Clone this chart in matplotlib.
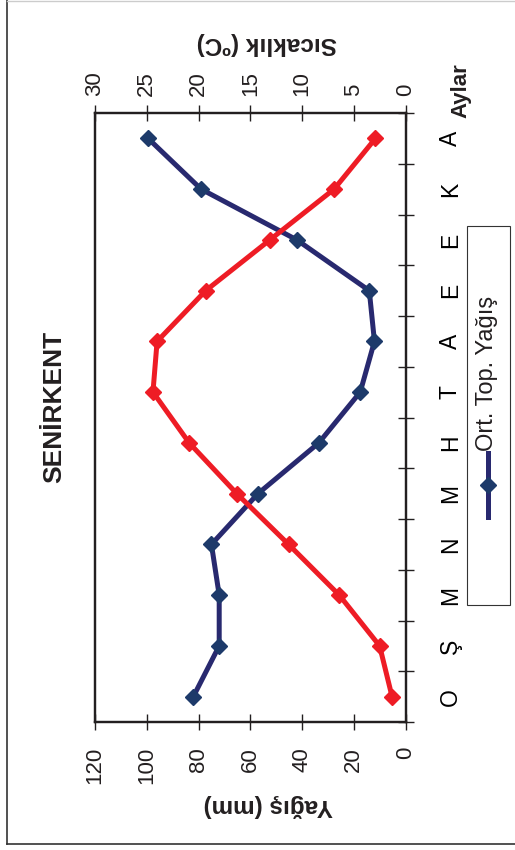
import matplotlib
matplotlib.use("Agg")
import matplotlib.pyplot as plt
from matplotlib.lines import Line2D
from matplotlib.patches import Rectangle

plt.rcParams['font.family'] = ['Liberation Sans', 'DejaVu Sans']

# Monthly climate data for Senirkent (January .. December)
months = ["O", "Ş", "M", "N", "M", "H", "T", "A", "E", "E", "K", "A"]
precip_mm = [82, 72, 72, 75, 57, 33.5, 17.5, 12, 14, 42, 79, 99.5]
temp_c = [1.3, 2.5, 6.4, 11.3, 16.3, 20.9, 24.4, 24.0, 19.3, 13.1, 6.9, 2.9]
precip_ticks = [0, 20, 40, 60, 80, 100, 120]
temp_ticks = [0, 5, 10, 15, 20, 25, 30]

NAVY = "#28296f"
NAVY_MK = "#1d3a6a"
RED = "#ee1c25"
INK = "#231f20"

W, H = 515, 850
fig = plt.figure(figsize=(W / 100, H / 100), dpi=100)


def fx(x):
    return x / W


def fy(y):
    return 1 - y / H


# The chart is laid out sideways: months run bottom -> top, values right -> left
ax = fig.add_axes([fx(95), fy(722), (405.5 - 95) / W, (722 - 113) / H])
pos = list(range(len(months)))

ax.plot(precip_mm, pos, color=NAVY, lw=3.6, marker="D", ms=8,
        mfc=NAVY_MK, mec=NAVY_MK, zorder=3)
ax.set_xlim(120, 0)
ax.set_ylim(-0.5, len(months) - 0.5)

for s in ax.spines.values():
    s.set_linewidth(1.6)
    s.set_color(INK)

ax.set_xticks(precip_ticks)
ax.tick_params(axis="x", direction="inout", length=12, width=1, pad=12,
               labelsize=16, labelrotation=90, colors=INK)

ax.yaxis.tick_right()
ax.set_yticks(pos, months)
ax.set_yticks([p - 0.5 for p in pos] + [pos[-1] + 0.5], minor=True)
ax.tick_params(axis="y", which="major", length=0, pad=24, labelsize=16.5,
               labelrotation=90, left=False, right=True)
ax.tick_params(axis="y", which="minor", direction="inout", length=12,
               width=1, left=False, right=True, color=INK)
for t in ax.get_yticklabels():
    t.set_va("center")

ax2 = ax.twiny()
ax2.plot(temp_c, pos, color=RED, lw=3.6, marker="D", ms=8,
         mfc=RED, mec=RED, zorder=4)
ax2.set_xlim(30, 0)
ax2.set_xticks(temp_ticks)
ax2.tick_params(axis="x", direction="inout", length=12, width=1, pad=6,
                labelsize=16, labelrotation=90, colors=INK)
for s in ax2.spines.values():
    s.set_linewidth(1.6)
    s.set_color(INK)

# Titles and axis names
fig.text(fx(54), fy(407), "SENİRKENT", rotation=90, fontsize=19,
         fontweight="bold", ha="center", va="center", color=INK)
fig.text(fx(268), fy(806), "Yağış (mm)", rotation=180, fontsize=17.5,
         fontweight="bold", ha="center", va="center", color=INK)
fig.text(fx(267), fy(43), "Sıcaklık (ºC)", rotation=180, fontsize=17.5,
         fontweight="bold", ha="center", va="center", color=INK)
fig.text(fx(461), fy(91), "Aylar", rotation=90, fontsize=16,
         fontweight="bold", ha="center", va="center", color=INK)

# Legend (drawn sideways to follow the chart orientation)
fig.add_artist(Rectangle((fx(467), fy(605)), (510 - 467) / W, (605 - 226) / H,
                         transform=fig.transFigure, fill=False,
                         ec="#333333", lw=0.8))
fig.add_artist(Line2D([fx(488), fx(488)], [fy(517), fy(453)], color=NAVY,
                      lw=3.6, transform=fig.transFigure))
fig.add_artist(Line2D([fx(488)], [fy(485)], marker="D", ms=8, mfc=NAVY_MK,
                      mec=NAVY_MK, transform=fig.transFigure))
fig.text(fx(487), fy(451), "Ort. Top. Yağış", rotation=90, fontsize=17,
         ha="center", va="bottom", color=INK)

# Outer frame
fig.add_artist(Line2D([fx(7), fx(7)], [fy(0), fy(844)], color="#333333",
                      lw=1.2, transform=fig.transFigure))
fig.add_artist(Line2D([fx(7), fx(515)], [fy(844), fy(844)], color="#333333",
                      lw=1.2, transform=fig.transFigure))
fig.add_artist(Line2D([fx(7), fx(515)], [fy(1), fy(1)], color="#cccccc",
                      lw=1.0, transform=fig.transFigure))

fig.savefig("out.png", dpi=100, facecolor="white")
